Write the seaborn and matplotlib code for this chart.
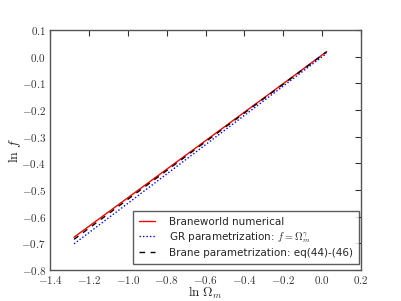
import numpy as np
import pandas as pd
import matplotlib
matplotlib.use("Agg")
import matplotlib.pyplot as plt
import seaborn as sns
from matplotlib.ticker import FuncFormatter, MultipleLocator

# Data
ln_omega = [-1.277, -1.0, -0.6, -0.2, 0.023]
brane_num = [-0.677, -0.529, -0.315, -0.101, 0.019]
gr_param = [-0.702, -0.550, -0.330, -0.110, 0.0125]
brane_param = [-0.685, -0.535, -0.319, -0.103, 0.018]

labels = ["Braneworld numerical",
          r"GR parametrization: $f=\Omega_m^\gamma$",
          "Brane parametrization: eq(44)-(46)"]

sns.set_style("white")
plt.rcParams["mathtext.fontset"] = "cm"
plt.rcParams["font.family"] = ["DejaVu Sans"]

fig = plt.figure(figsize=(4.01, 3.01), dpi=100)
ax = fig.add_axes([0.125, 0.103, 0.775, 0.797])

df = pd.DataFrame({"x": ln_omega, "num": brane_num, "gr": gr_param, "bp": brane_param})
sns.lineplot(data=df, x="x", y="num", ax=ax, color="red", lw=1.0, label=labels[0])
sns.lineplot(data=df, x="x", y="gr", ax=ax, color="blue", lw=1.0, linestyle=(0, (1, 1.5)), label=labels[1])
sns.lineplot(data=df, x="x", y="bp", ax=ax, color="black", lw=1.0, linestyle=(0, (4, 4)), label=labels[2])

ax.set_xlim(-1.4, 0.2)
ax.set_ylim(-0.8, 0.1)
ax.xaxis.set_major_locator(MultipleLocator(0.2))
ax.yaxis.set_major_locator(MultipleLocator(0.1))
fmt = FuncFormatter(lambda v, p: "$%.1f$" % (0.0 if abs(v) < 1e-9 else v))
ax.xaxis.set_major_formatter(fmt)
ax.yaxis.set_major_formatter(fmt)
ax.tick_params(direction="in", length=4, width=0.8, top=True, right=True,
               labelsize=8, colors="#333333", pad=3)
for s in ax.spines.values():
    s.set_color("#555555")
    s.set_linewidth(1.0)

ax.set_xlabel(r"$\ln\,\Omega_m$", fontsize=9.5, labelpad=-1)
ax.set_ylabel(r"$\ln\,f$", fontsize=10, labelpad=-1)

leg = ax.legend(loc="lower right", fontsize=7.5, frameon=True, fancybox=False,
                bbox_to_anchor=(359 / 401, 37 / 301), bbox_transform=fig.transFigure,
                borderaxespad=0.0, handlelength=1.5, handletextpad=1.35,
                labelspacing=0.3, borderpad=0.6)
leg.get_frame().set_edgecolor("#333333")
leg.get_frame().set_linewidth(1.0)

fig.savefig("out.png", dpi=100)
